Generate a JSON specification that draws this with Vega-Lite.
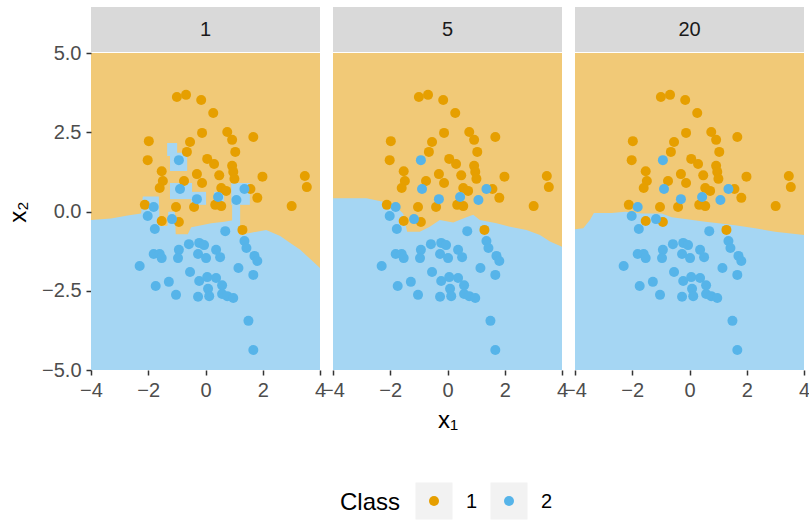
{
  "$schema": "https://vega.github.io/schema/vega-lite/v6.json",
  "background": "white",
  "padding": {"left": 6, "top": 7, "right": 0, "bottom": 0},
  "datasets": {
    "pts": [
      {"x": -1.00, "y": 3.61, "Class": "1"}, {"x": -0.68, "y": 3.68, "Class": "1"}, {"x": -0.15, "y": 3.52, "Class": "1"},
      {"x": 0.27, "y": 3.11, "Class": "1"}, {"x": -0.12, "y": 2.48, "Class": "1"}, {"x": 0.76, "y": 2.51, "Class": "1"},
      {"x": 0.93, "y": 2.26, "Class": "1"}, {"x": 1.67, "y": 2.35, "Class": "1"}, {"x": -1.98, "y": 2.22, "Class": "1"},
      {"x": -0.54, "y": 2.19, "Class": "1"}, {"x": -0.65, "y": 1.88, "Class": "1"}, {"x": 1.04, "y": 1.88, "Class": "1"},
      {"x": -2.02, "y": 1.62, "Class": "1"}, {"x": 0.06, "y": 1.66, "Class": "1"}, {"x": 0.30, "y": 1.50, "Class": "1"},
      {"x": 0.93, "y": 1.44, "Class": "1"}, {"x": 0.97, "y": 1.25, "Class": "1"}, {"x": -1.53, "y": 1.27, "Class": "1"},
      {"x": -0.30, "y": 1.18, "Class": "1"}, {"x": 0.48, "y": 1.14, "Class": "1"}, {"x": 1.99, "y": 1.10, "Class": "1"},
      {"x": 3.47, "y": 1.12, "Class": "1"}, {"x": 3.54, "y": 0.77, "Class": "1"}, {"x": -0.12, "y": 0.90, "Class": "1"},
      {"x": -0.75, "y": 0.96, "Class": "1"}, {"x": -1.49, "y": 0.96, "Class": "1"}, {"x": -1.60, "y": 0.74, "Class": "1"},
      {"x": 1.01, "y": 1.03, "Class": "1"}, {"x": 0.55, "y": 0.74, "Class": "1"}, {"x": 0.72, "y": 0.65, "Class": "1"},
      {"x": 1.57, "y": 0.71, "Class": "1"}, {"x": 1.81, "y": 0.43, "Class": "1"}, {"x": -2.12, "y": 0.21, "Class": "1"},
      {"x": -1.03, "y": 0.14, "Class": "1"}, {"x": -0.40, "y": 0.14, "Class": "1"}, {"x": 0.34, "y": 0.21, "Class": "1"},
      {"x": 0.55, "y": 0.17, "Class": "1"}, {"x": 3.01, "y": 0.17, "Class": "1"}, {"x": -1.53, "y": -0.30, "Class": "1"},
      {"x": -0.93, "y": -0.33, "Class": "1"}, {"x": 1.29, "y": -0.58, "Class": "1"},
      {"x": -0.93, "y": 1.62, "Class": "2"}, {"x": -0.89, "y": 0.71, "Class": "2"}, {"x": -0.30, "y": 0.39, "Class": "2"},
      {"x": -1.81, "y": 0.14, "Class": "2"}, {"x": 0.44, "y": 0.46, "Class": "2"}, {"x": 1.08, "y": 0.36, "Class": "2"},
      {"x": 1.36, "y": 0.71, "Class": "2"}, {"x": -2.02, "y": -0.14, "Class": "2"}, {"x": -1.17, "y": -0.24, "Class": "2"},
      {"x": -1.77, "y": -0.55, "Class": "2"}, {"x": 0.69, "y": -0.62, "Class": "2"}, {"x": 1.36, "y": -0.93, "Class": "2"},
      {"x": 1.43, "y": -1.15, "Class": "2"}, {"x": -0.93, "y": -1.21, "Class": "2"}, {"x": -0.96, "y": -1.47, "Class": "2"},
      {"x": -0.58, "y": -1.03, "Class": "2"}, {"x": -0.22, "y": -0.99, "Class": "2"}, {"x": -0.05, "y": -1.06, "Class": "2"},
      {"x": -0.26, "y": -1.34, "Class": "2"}, {"x": 0.02, "y": -1.47, "Class": "2"}, {"x": 0.37, "y": -1.21, "Class": "2"},
      {"x": 0.51, "y": -1.44, "Class": "2"}, {"x": -1.81, "y": -1.34, "Class": "2"}, {"x": -1.60, "y": -1.34, "Class": "2"},
      {"x": -1.53, "y": -1.47, "Class": "2"}, {"x": 1.71, "y": -1.40, "Class": "2"}, {"x": 1.81, "y": -1.56, "Class": "2"},
      {"x": -2.30, "y": -1.72, "Class": "2"}, {"x": -0.54, "y": -1.91, "Class": "2"}, {"x": 1.15, "y": -1.78, "Class": "2"},
      {"x": 1.67, "y": -2.00, "Class": "2"}, {"x": -0.22, "y": -2.19, "Class": "2"}, {"x": 0.06, "y": -2.07, "Class": "2"},
      {"x": 0.37, "y": -2.10, "Class": "2"}, {"x": 0.58, "y": -2.33, "Class": "2"}, {"x": -1.28, "y": -2.22, "Class": "2"},
      {"x": -1.74, "y": -2.35, "Class": "2"}, {"x": -1.03, "y": -2.63, "Class": "2"}, {"x": -0.26, "y": -2.69, "Class": "2"},
      {"x": 0.09, "y": -2.44, "Class": "2"}, {"x": 0.13, "y": -2.67, "Class": "2"}, {"x": 0.58, "y": -2.60, "Class": "2"},
      {"x": 0.76, "y": -2.67, "Class": "2"}, {"x": 0.97, "y": -2.73, "Class": "2"}, {"x": 1.50, "y": -3.45, "Class": "2"},
      {"x": 1.67, "y": -4.37, "Class": "2"}
    ],
    "bnd": [
      {"k": "1", "x": -4.0, "y": -0.27}, {"k": "1", "x": -3.3, "y": -0.22}, {"k": "1", "x": -2.72, "y": -0.13},
      {"k": "1", "x": -2.25, "y": -0.06}, {"k": "1", "x": -2.19, "y": 0.47}, {"k": "1", "x": -1.63, "y": 0.47},
      {"k": "1", "x": -1.60, "y": -0.46}, {"k": "1", "x": -1.33, "y": -0.46}, {"k": "1", "x": -1.30, "y": -0.01},
      {"k": "1", "x": -1.07, "y": -0.01}, {"k": "1", "x": -1.04, "y": -0.72}, {"k": "1", "x": -0.62, "y": -0.72},
      {"k": "1", "x": -0.50, "y": -0.50}, {"k": "1", "x": -0.27, "y": -0.46}, {"k": "1", "x": 0.20, "y": -0.37},
      {"k": "1", "x": 0.66, "y": -0.32}, {"k": "1", "x": 1.01, "y": -0.27}, {"k": "1", "x": 1.19, "y": -0.74},
      {"k": "1", "x": 1.59, "y": -0.67}, {"k": "1", "x": 2.12, "y": -0.58}, {"k": "1", "x": 2.61, "y": -0.77},
      {"k": "1", "x": 2.96, "y": -0.99}, {"k": "1", "x": 3.31, "y": -1.21}, {"k": "1", "x": 3.66, "y": -1.50},
      {"k": "1", "x": 4.0, "y": -1.78},
      {"k": "5", "x": -4.0, "y": 0.42}, {"k": "5", "x": -2.83, "y": 0.42}, {"k": "5", "x": -2.25, "y": 0.31},
      {"k": "5", "x": -1.79, "y": 0.15}, {"k": "5", "x": -1.55, "y": -0.06}, {"k": "5", "x": -1.41, "y": -0.64},
      {"k": "5", "x": -0.97, "y": -0.64}, {"k": "5", "x": -0.62, "y": -0.48}, {"k": "5", "x": -0.27, "y": -0.27},
      {"k": "5", "x": 0.20, "y": -0.35}, {"k": "5", "x": 0.66, "y": -0.18}, {"k": "5", "x": 0.90, "y": -0.10},
      {"k": "5", "x": 1.13, "y": -0.27}, {"k": "5", "x": 1.71, "y": -0.37}, {"k": "5", "x": 2.18, "y": -0.48},
      {"k": "5", "x": 2.76, "y": -0.58}, {"k": "5", "x": 3.23, "y": -0.74}, {"k": "5", "x": 3.58, "y": -0.95},
      {"k": "5", "x": 4.0, "y": -1.11},
      {"k": "20", "x": -4.0, "y": -0.56}, {"k": "20", "x": -3.71, "y": -0.53}, {"k": "20", "x": -3.48, "y": -0.27},
      {"k": "20", "x": -3.34, "y": -0.05}, {"k": "20", "x": -2.72, "y": -0.05}, {"k": "20", "x": -2.25, "y": -0.01},
      {"k": "20", "x": -1.67, "y": -0.06}, {"k": "20", "x": -0.97, "y": -0.06}, {"k": "20", "x": -0.62, "y": -0.18},
      {"k": "20", "x": -0.15, "y": -0.24}, {"k": "20", "x": 0.55, "y": -0.32}, {"k": "20", "x": 1.01, "y": -0.37},
      {"k": "20", "x": 1.59, "y": -0.43}, {"k": "20", "x": 2.29, "y": -0.53}, {"k": "20", "x": 2.99, "y": -0.64},
      {"k": "20", "x": 3.46, "y": -0.69}, {"k": "20", "x": 4.0, "y": -0.74}
    ],
    "isl": [
      {"k": "1", "x": -1.34, "xe": -0.99, "y": 1.75, "ye": 2.16, "c": "2"},
      {"k": "1", "x": -1.24, "xe": -0.64, "y": 1.28, "ye": 1.85, "c": "2"},
      {"k": "1", "x": -1.24, "xe": -0.47, "y": 0.39, "ye": 0.90, "c": "2"},
      {"k": "1", "x": -0.50, "xe": 0.02, "y": 0.21, "ye": 0.62, "c": "2"},
      {"k": "1", "x": 0.30, "xe": 0.65, "y": 0.27, "ye": 0.62, "c": "2"},
      {"k": "1", "x": 0.90, "xe": 1.55, "y": 0.21, "ye": 0.90, "c": "2"},
      {"k": "1", "x": 0.93, "xe": 1.21, "y": -0.58, "ye": 0.21, "c": "2"}
    ],
    "leg": [
      {"item": "Class", "kind": "title"},
      {"item": "1", "kind": "key"},
      {"item": "2", "kind": "key"}
    ]
  },
  "vconcat": [
    {
      "hconcat": [
        {
          "vconcat": [
            {
              "width": 229, "height": 45,
              "view": {"fill": "#D9D9D9", "stroke": null},
              "data": {"values": [{"k": "1"}]},
              "mark": {"type": "text", "fontSize": 20, "color": "#1A1A1A", "align": "center", "baseline": "middle"},
              "encoding": {"text": {"field": "k"}}
            },
            {
              "width": 229, "height": 317,
              "view": {"fill": "#F1C977", "stroke": null},
              "encoding": {
                "x": {"field": "x", "type": "quantitative", "scale": {"domain": [-4, 4], "nice": false, "zero": false},
                      "axis": {"values": [-4, -2, 0, 2, 4], "title": null}},
                "y": {"field": "y", "type": "quantitative", "scale": {"domain": [-5, 5], "nice": false, "zero": false},
                      "axis": {"values": [-5, -2.5, 0, 2.5, 5], "format": ".1f", "title": "x₂"}}
              },
              "layer": [
                {"data": {"name": "bnd"}, "transform": [{"filter": "datum.k == '1'"}],
                 "mark": {"type": "area", "color": "#A5D6F3", "clip": true},
                 "encoding": {"y2": {"datum": -5}}},
                {"data": {"name": "isl"}, "transform": [{"filter": "datum.k == '1'"}],
                 "mark": {"type": "rect", "clip": true},
                 "encoding": {"x2": {"field": "xe"}, "y2": {"field": "ye"},
                              "fill": {"field": "c", "type": "nominal", "scale": {"domain": ["1", "2"], "range": ["#F1C977", "#A5D6F3"]}, "legend": null}}},
                {"data": {"name": "pts"},
                 "mark": {"type": "point", "filled": true, "size": 100, "opacity": 1},
                 "encoding": {"color": {"field": "Class", "type": "nominal", "scale": {"domain": ["1", "2"], "range": ["#E69F00", "#56B4E9"]}, "legend": null}}}
              ]
            }
          ],
          "spacing": 1, "bounds": "flush"
        },
        {
          "vconcat": [
            {
              "width": 229, "height": 45,
              "view": {"fill": "#D9D9D9", "stroke": null},
              "data": {"values": [{"k": "5"}]},
              "mark": {"type": "text", "fontSize": 20, "color": "#1A1A1A", "align": "center", "baseline": "middle"},
              "encoding": {"text": {"field": "k"}}
            },
            {
              "width": 229, "height": 317,
              "view": {"fill": "#F1C977", "stroke": null},
              "encoding": {
                "x": {"field": "x", "type": "quantitative", "scale": {"domain": [-4, 4], "nice": false, "zero": false},
                      "axis": {"values": [-4, -2, 0, 2, 4], "title": "x₁"}},
                "y": {"field": "y", "type": "quantitative", "scale": {"domain": [-5, 5], "nice": false, "zero": false},
                      "axis": null}
              },
              "layer": [
                {"data": {"name": "bnd"}, "transform": [{"filter": "datum.k == '5'"}],
                 "mark": {"type": "area", "color": "#A5D6F3", "clip": true},
                 "encoding": {"y2": {"datum": -5}}},
                {"data": {"name": "pts"},
                 "mark": {"type": "point", "filled": true, "size": 100, "opacity": 1},
                 "encoding": {"color": {"field": "Class", "type": "nominal", "scale": {"domain": ["1", "2"], "range": ["#E69F00", "#56B4E9"]}, "legend": null}}}
              ]
            }
          ],
          "spacing": 1, "bounds": "flush"
        },
        {
          "vconcat": [
            {
              "width": 229, "height": 45,
              "view": {"fill": "#D9D9D9", "stroke": null},
              "data": {"values": [{"k": "20"}]},
              "mark": {"type": "text", "fontSize": 20, "color": "#1A1A1A", "align": "center", "baseline": "middle"},
              "encoding": {"text": {"field": "k"}}
            },
            {
              "width": 229, "height": 317,
              "view": {"fill": "#F1C977", "stroke": null},
              "encoding": {
                "x": {"field": "x", "type": "quantitative", "scale": {"domain": [-4, 4], "nice": false, "zero": false},
                      "axis": {"values": [-4, -2, 0, 2, 4], "title": null}},
                "y": {"field": "y", "type": "quantitative", "scale": {"domain": [-5, 5], "nice": false, "zero": false},
                      "axis": null}
              },
              "layer": [
                {"data": {"name": "bnd"}, "transform": [{"filter": "datum.k == '20'"}],
                 "mark": {"type": "area", "color": "#A5D6F3", "clip": true},
                 "encoding": {"y2": {"datum": -5}}},
                {"data": {"name": "pts"},
                 "mark": {"type": "point", "filled": true, "size": 100, "opacity": 1},
                 "encoding": {"color": {"field": "Class", "type": "nominal", "scale": {"domain": ["1", "2"], "range": ["#E69F00", "#56B4E9"]}, "legend": null}}}
              ]
            }
          ],
          "spacing": 1, "bounds": "flush"
        }
      ],
      "spacing": -5
    },
    {
      "width": 560, "height": 38,
      "data": {"name": "leg"},
      "encoding": {
        "x": {"field": "item", "type": "nominal", "sort": null,
              "scale": {"type": "point", "domain": ["Class", "1", "2"], "range": [268, 418], "padding": 0},
              "axis": null}
      },
      "layer": [
        {"transform": [{"filter": "datum.kind == 'title'"}],
         "mark": {"type": "text", "fontSize": 24, "color": "#000000", "align": "right", "baseline": "middle", "dx": 41, "dy": 2},
         "encoding": {"text": {"field": "item"}}},
        {"transform": [{"filter": "datum.kind == 'key'"}],
         "mark": {"type": "square", "size": 1369, "color": "#F2F2F2", "filled": true, "opacity": 1}},
        {"transform": [{"filter": "datum.kind == 'key'"}],
         "mark": {"type": "circle", "size": 100, "opacity": 1},
         "encoding": {"color": {"field": "item", "type": "nominal", "scale": {"domain": ["1", "2"], "range": ["#E69F00", "#56B4E9"]}, "legend": null}}},
        {"transform": [{"filter": "datum.kind == 'key'"}],
         "mark": {"type": "text", "fontSize": 20, "color": "#000000", "align": "left", "baseline": "middle", "dx": 32, "dy": 1},
         "encoding": {"text": {"field": "item"}}}
      ]
    }
  ],
  "spacing": 50,
  "resolve": {"scale": {"color": "shared"}},
  "config": {
    "font": "Liberation Sans",
    "view": {"stroke": null},
    "axis": {
      "domain": false, "grid": false, "ticks": true,
      "tickColor": "#333333", "tickSize": 5, "tickWidth": 1.5,
      "labelColor": "#4D4D4D", "labelFontSize": 20, "labelFlush": false, "labelOverlap": false, "labelPadding": 5,
      "titleFontSize": 24, "titleFontWeight": "normal", "titleColor": "#000000", "titlePadding": 11
    },
    "axisX": {"titlePadding": 8}
  }
}
